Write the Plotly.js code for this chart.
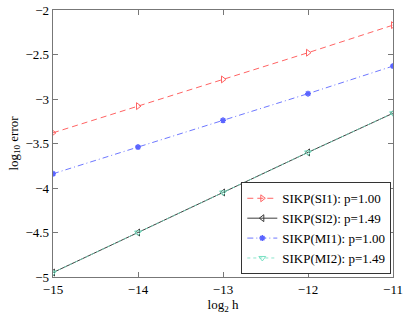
<!DOCTYPE html>
<html><head><meta charset="utf-8">
<script src="https://cdn.plot.ly/plotly-3.0.1.min.js"></script>
<style>html,body{margin:0;padding:0;background:#fff}#c{width:403px;height:315px}</style>
</head><body><div id="c"></div>
<script>
const log2h = [-15, -14, -13, -12, -11];
const si1 = [-3.38, -3.08, -2.78, -2.48, -2.17];
const si2 = [-4.95, -4.50, -4.05, -3.60, -3.16];
const mi1 = [-3.84, -3.54, -3.24, -2.94, -2.63];
const mi2 = [-4.95, -4.50, -4.05, -3.60, -3.16];
const names = ['SIKP(SI1): p=1.00', 'SIKP(SI2): p=1.49', 'SIKP(MI1): p=1.00', 'SIKP(MI2): p=1.49'];
const xticks = [-15, -14, -13, -12, -11];
const xlabels = ['\u221215', '\u221214', '\u221213', '\u221212', '\u221211'];
const yticks = [-5, -4.5, -4, -3.5, -3, -2.5, -2];
const ylabels = ['\u22125', '\u22124.5', '\u22124', '\u22123.5', '\u22123', '\u22122.5', '\u22122'];

const font = {family: 'Liberation Serif, Times New Roman, serif', size: 13, color: '#000'};
const traces = [
  {x: log2h, y: si1, name: names[0], mode: 'lines+markers',
   line: {color: 'rgb(255,100,100)', width: 1, dash: '6px,4px'},
   marker: {symbol: 'triangle-right-open', size: 6, color: 'rgb(255,100,100)', line: {width: 1}}},
  {x: log2h, y: si2, name: names[1], mode: 'lines+markers',
   line: {color: 'rgb(60,60,60)', width: 1},
   marker: {symbol: 'triangle-left-open', size: 6, color: 'rgb(60,60,60)', line: {width: 1}}},
  {x: log2h, y: mi1, name: names[2], mode: 'lines+markers',
   line: {color: 'rgb(110,120,255)', width: 1, dash: '6px,3px,1px,3px'},
   marker: {symbol: 'asterisk-open', size: 5, color: 'rgb(90,100,255)', line: {width: 1.5, color: 'rgb(90,100,255)'}}},
  {x: log2h, y: mi2, name: names[3], mode: 'lines+markers',
   line: {color: 'rgba(120,225,195,0.85)', width: 1, dash: '3px,3px'},
   marker: {symbol: 'triangle-down-open', size: 6, color: 'rgb(120,225,195)', line: {width: 1}}}
];
const axBase = {showgrid: false, zeroline: false, showline: true, linecolor: '#777', linewidth: 1.3,
  mirror: 'ticks', ticks: 'inside', ticklen: 5, tickcolor: '#777', tickfont: font,
  ticklabeloverflow: 'allow'};
const layout = {
  width: 403, height: 315,
  margin: {l: 53, r: 10, t: 10, b: 38},
  paper_bgcolor: '#fff', plot_bgcolor: '#fff',
  font: font,
  showlegend: true,
  xaxis: Object.assign({}, axBase, {range: [-15, -11], tickvals: xticks, ticktext: xlabels,
    title: {text: 'log<sub>2</sub> h', font: font, standoff: 2}}),
  yaxis: Object.assign({}, axBase, {range: [-5, -2], tickvals: yticks, ticktext: ylabels,
    title: {text: 'log<sub>10</sub> error', font: font, standoff: 4}}),
  legend: {x: 0.995, y: 0.01, xanchor: 'right', yanchor: 'bottom', bgcolor: '#fff',
    bordercolor: '#333', borderwidth: 1, font: font, tracegroupgap: 0, itemwidth: 30}
};
Plotly.newPlot('c', traces, layout, {displayModeBar: false, staticPlot: true});
</script></body></html>
